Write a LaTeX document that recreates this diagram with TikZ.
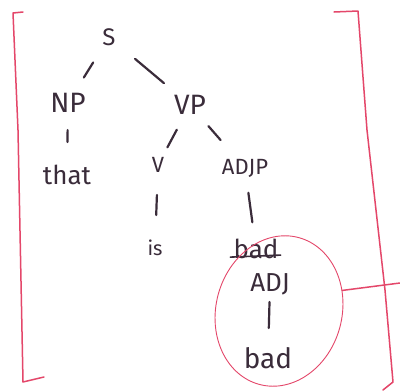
\documentclass[tikz,border=0pt]{standalone}
\usepackage{fontspec}
\setmainfont{Fira Sans}
\usetikzlibrary{shapes.geometric}
\definecolor{ink}{HTML}{3A2C3A}
\definecolor{pen}{HTML}{E4476A}
\newcommand\hfs[1]{\fontsize{#1}{#1}\selectfont}
\begin{document}
\begin{tikzpicture}[x=1pt,y=-1pt,
  lbl/.style={text=ink, inner sep=0pt},
  edge/.style={draw=ink, line width=2.2pt, line cap=round},
  penline/.style={draw=pen, line width=1.5pt, line cap=round, line join=round}]
\fill[white] (0,0) rectangle (400,391);
\useasboundingbox (0,0) rectangle (400,391);
% nodes
\node[lbl, font=\hfs{24}] (S) at (109,37) {S};
\node[lbl, font=\hfs{28}] (NP) at (68,103) {NP};
\node[lbl, font=\hfs{28}] (VP) at (190,105) {VP};
\node[lbl, font=\hfs{26}] (that) at (67,175) {that};
\node[lbl, font=\hfs{22}] (V) at (158,165) {V};
\node[lbl, font=\hfs{22}] (ADJP) at (245,168) {ADJP};
\node[lbl, font=\hfs{20}] (is) at (155,248) {is};
\node[lbl, font=\hfs{26}] (bad1) at (256,249) {bad};
\node[lbl, font=\hfs{26}] (ADJ) at (270,284) {ADJ};
\node[lbl, font=\hfs{28}] (bad2) at (268,358) {bad};
% connectors
\draw[edge, shorten <=30pt, shorten >=30pt] (S.center) -- (NP.center);
\draw[edge, shorten <=34pt, shorten >=34pt] (S.center) -- (VP.center);
\draw[edge, shorten <=27pt, shorten >=33pt] (NP.center) -- (that.center);
\draw[edge, shorten <=28pt, shorten >=20pt] (VP.center) -- (V.center);
\draw[edge, shorten <=28pt, shorten >=37pt] (VP.center) -- (ADJP.center);
\draw[edge, shorten <=30pt, shorten >=33pt] (V.center) -- (is.center);
\draw[edge, shorten <=25pt, shorten >=27pt] (ADJP.center) -- (bad1.center);
\draw[edge, shorten <=18pt, shorten >=30pt] (ADJ.center) -- (bad2.center);
% strike through the first "bad"
\draw[edge, line width=1.6pt] ([xshift=-3pt,yshift=2pt]bad1.south west) -- ([xshift=2pt,yshift=4pt]bad1.south east);
% circle and brackets
\node[draw=pen, line width=0.9pt, ellipse, minimum width=126pt, minimum height=152pt,
      inner sep=0pt, rotate=-15] (circ) at (279,311) {};
\coordinate (tail) at (400,283);
\draw[penline] (circ.33) -- (tail);
\draw[penline] (23,12) -- (13,13) -- (18,130) -- (23,382) -- (44,377);
\draw[penline] (334,12) -- (358,11) -- (367,130) -- (385,290) -- (393,382) -- (383,390);
\end{tikzpicture}
\end{document}
